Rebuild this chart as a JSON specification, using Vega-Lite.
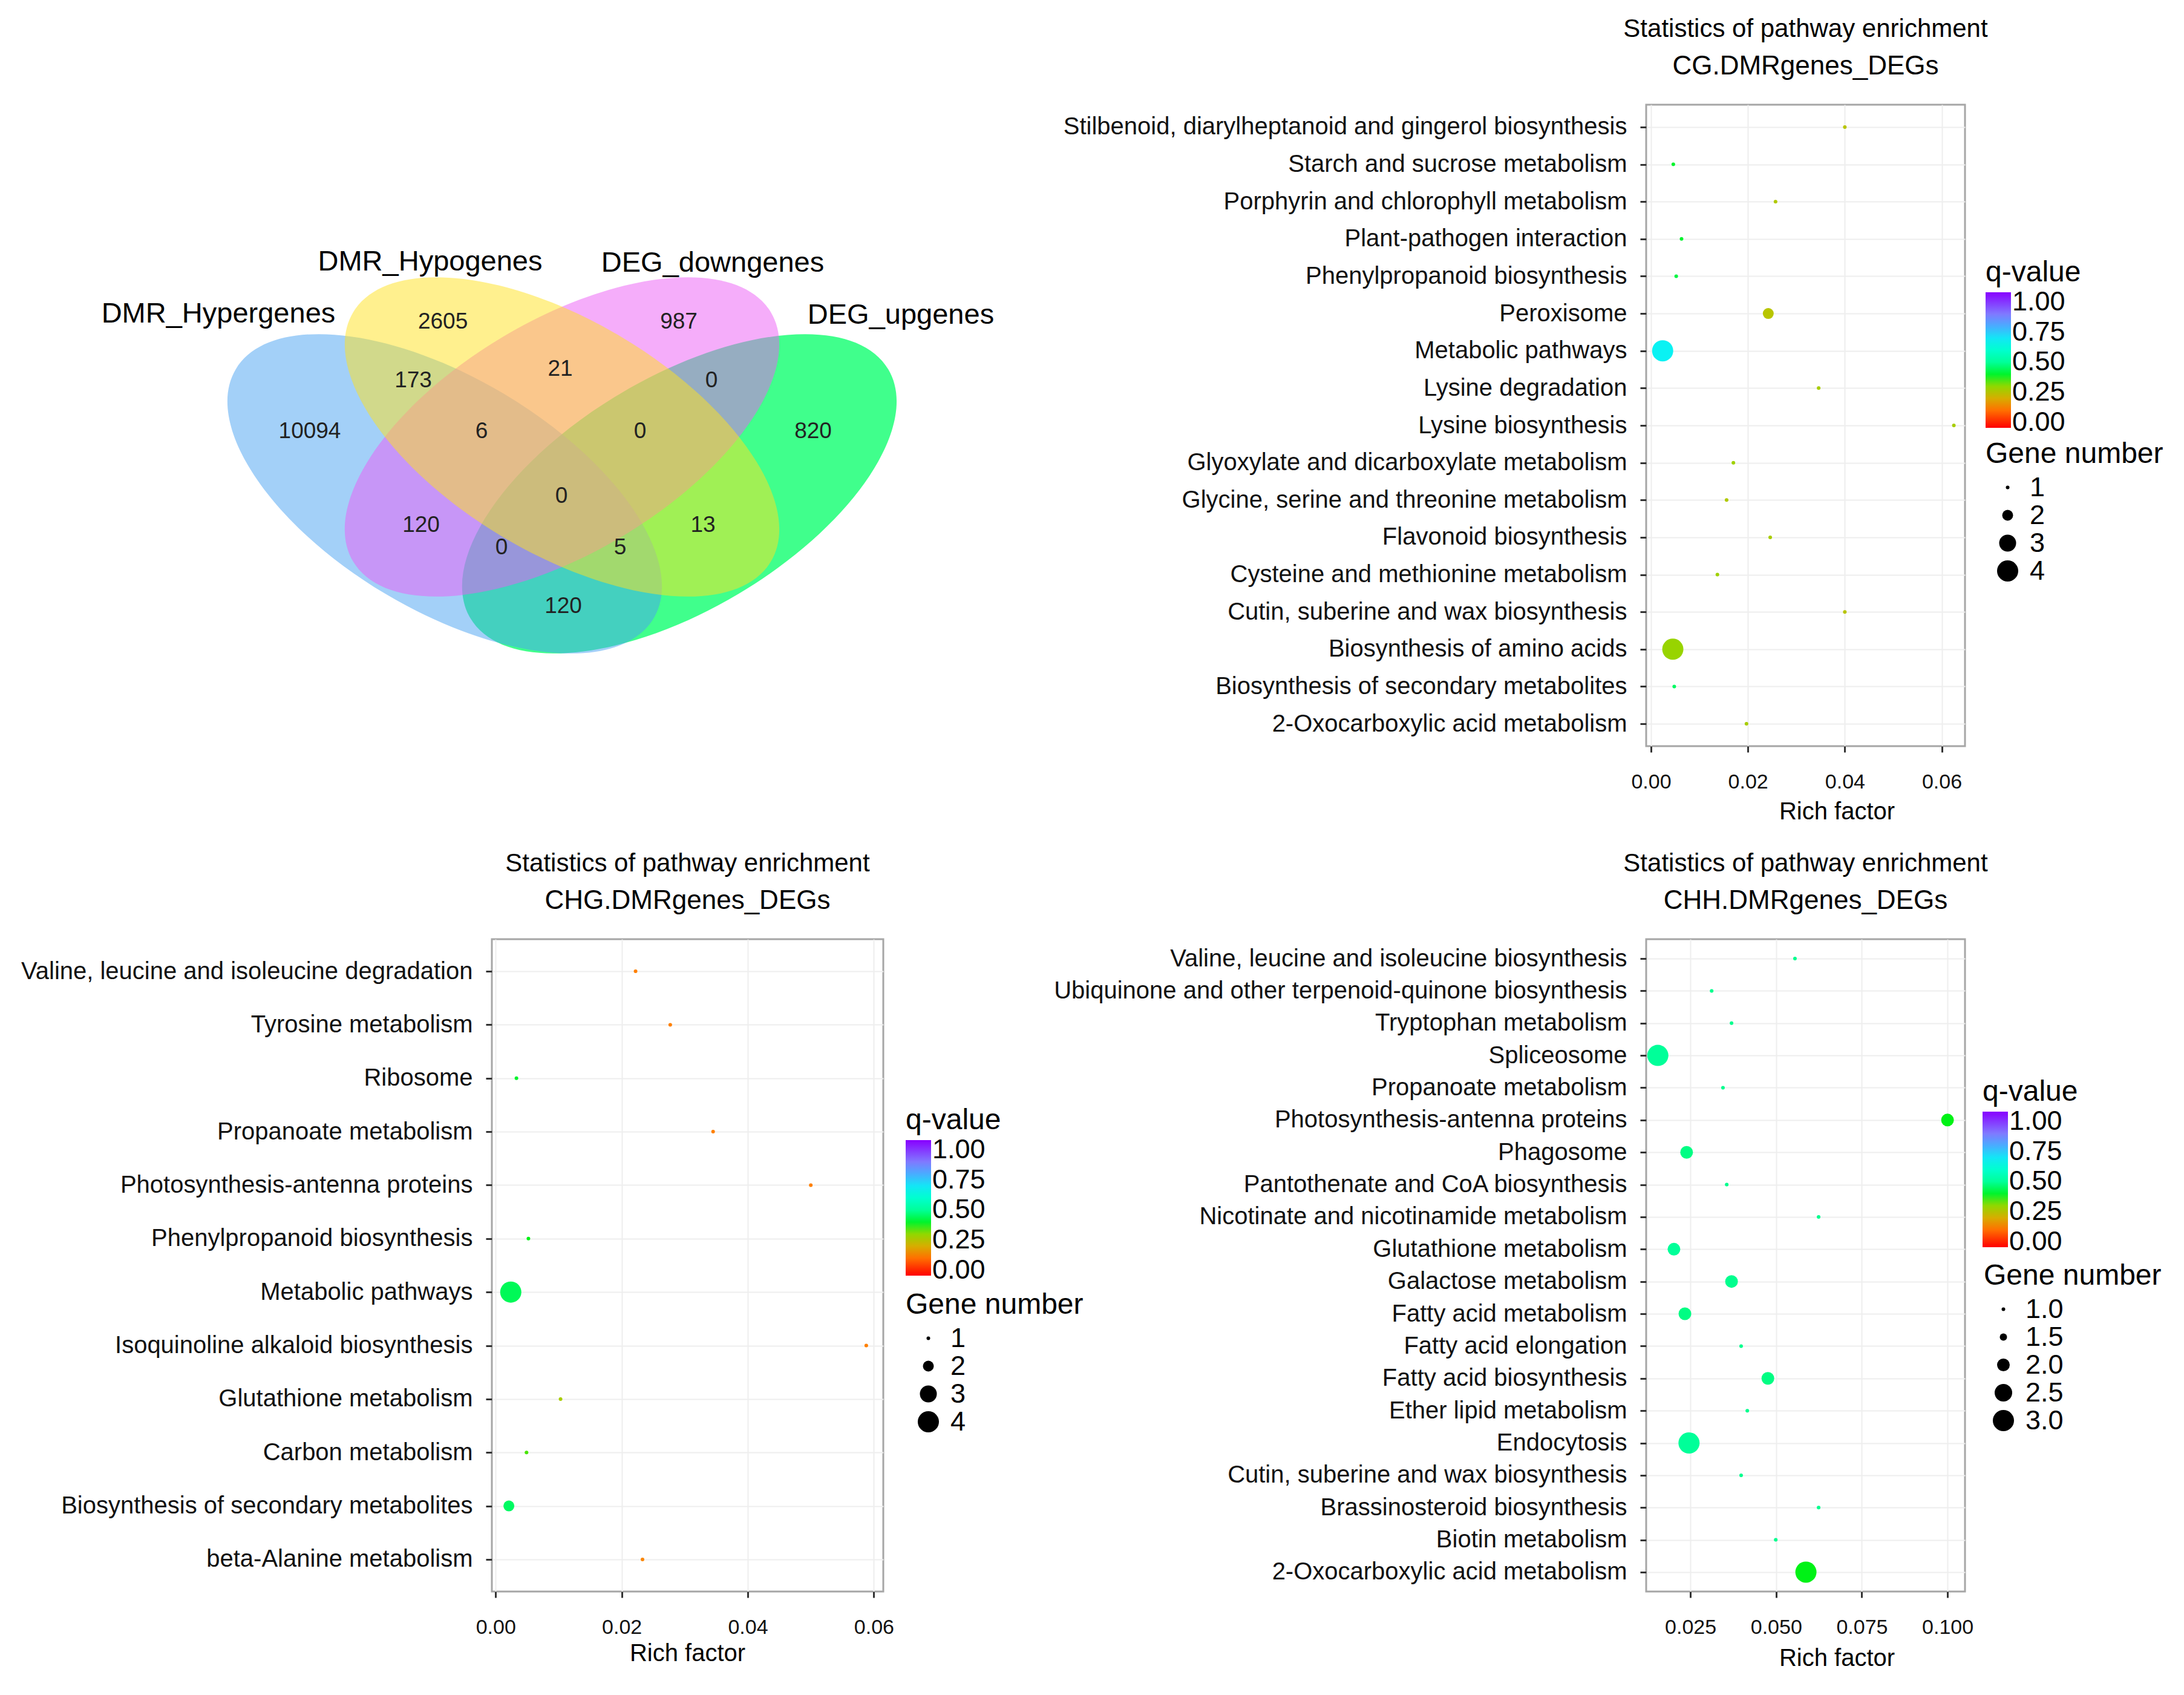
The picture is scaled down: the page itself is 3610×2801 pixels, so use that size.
{
  "$schema": "https://vega.github.io/schema/vega-lite/v6.json",
  "background": "white",
  "padding": {"left": 33, "top": 25, "right": 0, "bottom": 0},
  "config": {
    "font": "Liberation Sans",
    "view": {"stroke": "#a6a6a6", "strokeWidth": 3},
    "axis": {"domain": false, "tickColor": "#333333", "tickWidth": 3, "tickSize": 10, "labelColor": "#111111", "labelFont": "Liberation Sans", "gridColor": "#eeeeee", "gridWidth": 2, "titleFont": "Liberation Sans", "titleFontWeight": "normal", "titleColor": "#000000"},
    "axisY": {"labelFontSize": 40, "labelPadding": 22, "labelLimit": 3000},
    "axisX": {"labelFontSize": 34, "labelPadding": 32, "titleFontSize": 40},
    "legend": {"titleFontSize": 48, "labelFontSize": 45, "titleFontWeight": "normal", "titleColor": "#000000", "labelColor": "#000000", "titleFont": "Liberation Sans", "labelFont": "Liberation Sans", "titleLimit": 1000, "labelLimit": 1000, "labelOverlap": false, "padding": 0, "titlePadding": 8, "gradientThickness": 42, "gradientLength": 224, "gradientStrokeWidth": 0, "gradientVerticalMaxLength": 400, "labelOffset": 14, "rowPadding": 0, "symbolType": "circle", "symbolFillColor": "#000000", "symbolStrokeWidth": 0, "symbolOpacity": 1, "direction": "vertical"},
    "title": {"fontSize": 42, "subtitleFontSize": 44, "fontWeight": "normal", "subtitleFontWeight": "normal", "color": "#000000", "subtitleColor": "#000000", "anchor": "middle", "frame": "group", "offset": 40, "subtitlePadding": 18, "font": "Liberation Sans", "subtitleFont": "Liberation Sans"}
  },
  "datasets": {
    "venn_sets": [
      {"set": "DEG_upgenes", "u": 0.65, "v": 0.47},
      {"set": "DMR_Hypergenes", "u": 0.35, "v": 0.47},
      {"set": "DEG_downgenes", "u": 0.5, "v": 0.57},
      {"set": "DMR_Hypogenes", "u": 0.5, "v": 0.57}
    ],
    "venn_counts": [
      {"n": 2605, "u": 0.3477, "v": 0.7721},
      {"n": 987, "u": 0.6493, "v": 0.7721},
      {"n": 173, "u": 0.3098, "v": 0.6689},
      {"n": 21, "u": 0.4977, "v": 0.6891},
      {"n": 0, "u": 0.6911, "v": 0.6689},
      {"n": 10094, "u": 0.1775, "v": 0.5796},
      {"n": 6, "u": 0.3972, "v": 0.5796},
      {"n": 0, "u": 0.5998, "v": 0.5796},
      {"n": 820, "u": 0.821, "v": 0.5796},
      {"n": 0, "u": 0.4993, "v": 0.4657},
      {"n": 120, "u": 0.3198, "v": 0.4147},
      {"n": 13, "u": 0.6802, "v": 0.4147},
      {"n": 0, "u": 0.4227, "v": 0.3753},
      {"n": 5, "u": 0.5743, "v": 0.3753},
      {"n": 120, "u": 0.5016, "v": 0.2721}
    ],
    "venn_labels": [
      {"name": "DMR_Hypergenes", "u": 0.0607, "v": 0.786},
      {"name": "DMR_Hypogenes", "u": 0.3314, "v": 0.8774},
      {"name": "DEG_downgenes", "u": 0.6926, "v": 0.8753},
      {"name": "DEG_upgenes", "u": 0.9331, "v": 0.7838}
    ],
    "cg": [
      {"pathway": "Stilbenoid, diarylheptanoid and gingerol biosynthesis", "rich": 0.04, "q": 0.25, "genes": 1},
      {"pathway": "Starch and sucrose metabolism", "rich": 0.0046, "q": 0.4, "genes": 1},
      {"pathway": "Porphyrin and chlorophyll metabolism", "rich": 0.0257, "q": 0.26, "genes": 1},
      {"pathway": "Plant-pathogen interaction", "rich": 0.0063, "q": 0.4, "genes": 1},
      {"pathway": "Phenylpropanoid biosynthesis", "rich": 0.0052, "q": 0.42, "genes": 1},
      {"pathway": "Peroxisome", "rich": 0.0242, "q": 0.25, "genes": 2},
      {"pathway": "Metabolic pathways", "rich": 0.0024, "q": 0.68, "genes": 4},
      {"pathway": "Lysine degradation", "rich": 0.0346, "q": 0.27, "genes": 1},
      {"pathway": "Lysine biosynthesis", "rich": 0.0625, "q": 0.27, "genes": 1},
      {"pathway": "Glyoxylate and dicarboxylate metabolism", "rich": 0.017, "q": 0.28, "genes": 1},
      {"pathway": "Glycine, serine and threonine metabolism", "rich": 0.0156, "q": 0.26, "genes": 1},
      {"pathway": "Flavonoid biosynthesis", "rich": 0.0246, "q": 0.27, "genes": 1},
      {"pathway": "Cysteine and methionine metabolism", "rich": 0.0137, "q": 0.28, "genes": 1},
      {"pathway": "Cutin, suberine and wax biosynthesis", "rich": 0.04, "q": 0.25, "genes": 1},
      {"pathway": "Biosynthesis of amino acids", "rich": 0.0045, "q": 0.29, "genes": 4},
      {"pathway": "Biosynthesis of secondary metabolites", "rich": 0.0048, "q": 0.45, "genes": 1},
      {"pathway": "2-Oxocarboxylic acid metabolism", "rich": 0.0197, "q": 0.27, "genes": 1}
    ],
    "chg": [
      {"pathway": "Valine, leucine and isoleucine degradation", "rich": 0.0222, "q": 0.12, "genes": 1},
      {"pathway": "Tyrosine metabolism", "rich": 0.0277, "q": 0.12, "genes": 1},
      {"pathway": "Ribosome", "rich": 0.0033, "q": 0.4, "genes": 1},
      {"pathway": "Propanoate metabolism", "rich": 0.0345, "q": 0.12, "genes": 1},
      {"pathway": "Photosynthesis-antenna proteins", "rich": 0.05, "q": 0.12, "genes": 1},
      {"pathway": "Phenylpropanoid biosynthesis", "rich": 0.0052, "q": 0.38, "genes": 1},
      {"pathway": "Metabolic pathways", "rich": 0.0024, "q": 0.44, "genes": 4},
      {"pathway": "Isoquinoline alkaloid biosynthesis", "rich": 0.0588, "q": 0.12, "genes": 1},
      {"pathway": "Glutathione metabolism", "rich": 0.0103, "q": 0.27, "genes": 1},
      {"pathway": "Carbon metabolism", "rich": 0.0049, "q": 0.33, "genes": 1},
      {"pathway": "Biosynthesis of secondary metabolites", "rich": 0.0021, "q": 0.45, "genes": 2},
      {"pathway": "beta-Alanine metabolism", "rich": 0.0233, "q": 0.13, "genes": 1}
    ],
    "chh": [
      {"pathway": "Valine, leucine and isoleucine biosynthesis", "rich": 0.0555, "q": 0.49, "genes": 1},
      {"pathway": "Ubiquinone and other terpenoid-quinone biosynthesis", "rich": 0.0312, "q": 0.49, "genes": 1},
      {"pathway": "Tryptophan metabolism", "rich": 0.037, "q": 0.49, "genes": 1},
      {"pathway": "Spliceosome", "rich": 0.0155, "q": 0.5, "genes": 3},
      {"pathway": "Propanoate metabolism", "rich": 0.0345, "q": 0.49, "genes": 1},
      {"pathway": "Photosynthesis-antenna proteins", "rich": 0.1, "q": 0.38, "genes": 2},
      {"pathway": "Phagosome", "rich": 0.0239, "q": 0.48, "genes": 2},
      {"pathway": "Pantothenate and CoA biosynthesis", "rich": 0.0356, "q": 0.49, "genes": 1},
      {"pathway": "Nicotinate and nicotinamide metabolism", "rich": 0.0624, "q": 0.49, "genes": 1},
      {"pathway": "Glutathione metabolism", "rich": 0.0202, "q": 0.5, "genes": 2},
      {"pathway": "Galactose metabolism", "rich": 0.037, "q": 0.49, "genes": 2},
      {"pathway": "Fatty acid metabolism", "rich": 0.0234, "q": 0.48, "genes": 2},
      {"pathway": "Fatty acid elongation", "rich": 0.0398, "q": 0.49, "genes": 1},
      {"pathway": "Fatty acid biosynthesis", "rich": 0.0476, "q": 0.48, "genes": 2},
      {"pathway": "Ether lipid metabolism", "rich": 0.0416, "q": 0.49, "genes": 1},
      {"pathway": "Endocytosis", "rich": 0.0246, "q": 0.5, "genes": 3},
      {"pathway": "Cutin, suberine and wax biosynthesis", "rich": 0.0398, "q": 0.49, "genes": 1},
      {"pathway": "Brassinosteroid biosynthesis", "rich": 0.0624, "q": 0.49, "genes": 1},
      {"pathway": "Biotin metabolism", "rich": 0.0499, "q": 0.49, "genes": 1},
      {"pathway": "2-Oxocarboxylic acid metabolism", "rich": 0.0587, "q": 0.38, "genes": 3}
    ]
  },
  "columns": 2,
  "spacing": {"row": 319, "column": 1261},
  "bounds": "flush",
  "align": "each",
  "resolve": {"scale": {"color": "independent", "size": "independent"}, "legend": {"color": "independent", "size": "independent"}},
  "concat": [
    {
      "width": 647,
      "height": 1060,
      "view": {"stroke": null},
      "encoding": {
        "x": {"field": "u", "type": "quantitative", "scale": {"domain": [0.4103, 0.9107], "nice": false, "zero": false}, "axis": null},
        "y": {"field": "v", "type": "quantitative", "scale": {"domain": [0.0264, 1.154], "nice": false, "zero": false}, "axis": null}
      },
      "layer": [
        {"data": {"name": "venn_sets"}, "transform": [{"filter": "datum.set === 'DEG_upgenes'"}],
         "mark": {"type": "point", "shape": "M -1 0 A 1 0.478 0 1 1 1 0 A 1 0.478 0 1 1 -1 0 Z", "size": 646416, "angle": -30.8, "filled": true, "color": "#00FF65", "fill": "#00FF65", "opacity": 0.75, "strokeWidth": 0}},
        {"data": {"name": "venn_sets"}, "transform": [{"filter": "datum.set === 'DMR_Hypergenes'"}],
         "mark": {"type": "point", "shape": "M -1 0 A 1 0.478 0 1 1 1 0 A 1 0.478 0 1 1 -1 0 Z", "size": 646416, "angle": 30.8, "filled": true, "color": "#47A1F1", "fill": "#47A1F1", "opacity": 0.5, "strokeWidth": 0}},
        {"data": {"name": "venn_sets"}, "transform": [{"filter": "datum.set === 'DEG_downgenes'"}],
         "mark": {"type": "point", "shape": "M -1 0 A 1 0.478 0 1 1 1 0 A 1 0.478 0 1 1 -1 0 Z", "size": 646416, "angle": -30.8, "filled": true, "color": "#EB5BF5", "fill": "#EB5BF5", "opacity": 0.5, "strokeWidth": 0}},
        {"data": {"name": "venn_sets"}, "transform": [{"filter": "datum.set === 'DMR_Hypogenes'"}],
         "mark": {"type": "point", "shape": "M -1 0 A 1 0.478 0 1 1 1 0 A 1 0.478 0 1 1 -1 0 Z", "size": 646416, "angle": 30.8, "filled": true, "color": "#FFE11D", "fill": "#FFE11D", "opacity": 0.5, "strokeWidth": 0}},
        {"data": {"name": "venn_counts"},
         "mark": {"type": "text", "fontSize": 37, "color": "#222222", "align": "center", "baseline": "middle", "font": "Liberation Sans"},
         "encoding": {"text": {"field": "n", "type": "quantitative", "format": "d"}}},
        {"data": {"name": "venn_labels"},
         "mark": {"type": "text", "fontSize": 47, "color": "#000000", "align": "center", "baseline": "middle", "font": "Liberation Sans"},
         "encoding": {"text": {"field": "name", "type": "nominal"}}}
      ]
    },
    {
      "title": {"text": "Statistics of pathway  enrichment", "subtitle": "CG.DMRgenes_DEGs"},
      "width": 527,
      "height": 1060,
      "data": {"name": "cg"},
      "mark": {"type": "point", "filled": true, "opacity": 1, "shape": "circle", "strokeWidth": 0},
      "encoding": {
        "x": {"field": "rich", "type": "quantitative", "scale": {"domain": [-0.001, 0.0648], "nice": false, "zero": false},
              "axis": {"values": [0, 0.02, 0.04, 0.06], "format": ".2f", "title": "Rich factor", "titleX": 315, "titleY": 108, "titleBaseline": "middle", "grid": true}},
        "y": {"field": "pathway", "type": "nominal", "scale": {"type": "point", "padding": 0.6},
              "sort": ["Stilbenoid, diarylheptanoid and gingerol biosynthesis", "Starch and sucrose metabolism", "Porphyrin and chlorophyll metabolism", "Plant-pathogen interaction", "Phenylpropanoid biosynthesis", "Peroxisome", "Metabolic pathways", "Lysine degradation", "Lysine biosynthesis", "Glyoxylate and dicarboxylate metabolism", "Glycine, serine and threonine metabolism", "Flavonoid biosynthesis", "Cysteine and methionine metabolism", "Cutin, suberine and wax biosynthesis", "Biosynthesis of amino acids", "Biosynthesis of secondary metabolites", "2-Oxocarboxylic acid metabolism"],
              "axis": {"title": null, "grid": true}},
        "color": {"field": "q", "type": "quantitative",
                  "scale": {"domain": [-0.045, 0.12, 0.23, 0.3, 0.36, 0.5, 0.66, 0.76, 0.89, 1.08], "range": ["#FF0000", "#FF8000", "#C8BE00", "#90D800", "#00F000", "#00FF99", "#00FFF0", "#30C0FF", "#8080FF", "#8800FF"], "interpolate": "rgb"},
                  "legend": {"title": "q-value", "orient": "none", "legendX": 561, "legendY": 254, "values": [0, 0.25, 0.5, 0.75, 1], "format": ".2f", "direction": "vertical", "gradientLength": 224, "labelOverlap": false}},
        "size": {"field": "genes", "type": "quantitative",
                 "scale": {"domain": [1, 2, 3, 4], "range": [36, 324, 784, 1225]},
                 "legend": {"title": "Gene number", "orient": "none", "legendX": 561, "legendY": 554, "values": [1, 2, 3, 4], "format": "d", "direction": "vertical", "symbolOffset": 14, "titleLimit": 1000}}
      }
    },
    {
      "title": {"text": "Statistics of pathway  enrichment", "subtitle": "CHG.DMRgenes_DEGs"},
      "width": 647,
      "height": 1078,
      "data": {"name": "chg"},
      "mark": {"type": "point", "filled": true, "opacity": 1, "shape": "circle", "strokeWidth": 0},
      "encoding": {
        "x": {"field": "rich", "type": "quantitative", "scale": {"domain": [-0.0006, 0.0615], "nice": false, "zero": false},
              "axis": {"values": [0, 0.02, 0.04, 0.06], "format": ".2f", "title": "Rich factor", "titleX": 323, "titleY": 102, "titleBaseline": "middle", "grid": true}},
        "y": {"field": "pathway", "type": "nominal", "scale": {"type": "point", "padding": 0.6},
              "sort": ["Valine, leucine and isoleucine degradation", "Tyrosine metabolism", "Ribosome", "Propanoate metabolism", "Photosynthesis-antenna proteins", "Phenylpropanoid biosynthesis", "Metabolic pathways", "Isoquinoline alkaloid biosynthesis", "Glutathione metabolism", "Carbon metabolism", "Biosynthesis of secondary metabolites", "beta-Alanine metabolism"],
              "axis": {"title": null, "grid": true}},
        "color": {"field": "q", "type": "quantitative",
                  "scale": {"domain": [-0.045, 0.12, 0.23, 0.3, 0.36, 0.5, 0.66, 0.76, 0.89, 1.08], "range": ["#FF0000", "#FF8000", "#C8BE00", "#90D800", "#00F000", "#00FF99", "#00FFF0", "#30C0FF", "#8080FF", "#8800FF"], "interpolate": "rgb"},
                  "legend": {"title": "q-value", "orient": "none", "legendX": 684, "legendY": 276, "values": [0, 0.25, 0.5, 0.75, 1], "format": ".2f", "direction": "vertical", "gradientLength": 224, "labelOverlap": false}},
        "size": {"field": "genes", "type": "quantitative",
                 "scale": {"domain": [1, 2, 3, 4], "range": [36, 324, 784, 1225]},
                 "legend": {"title": "Gene number", "orient": "none", "legendX": 684, "legendY": 581, "values": [1, 2, 3, 4], "format": "d", "direction": "vertical", "symbolOffset": 15, "titleLimit": 1000}}
      }
    },
    {
      "title": {"text": "Statistics of pathway  enrichment", "subtitle": "CHH.DMRgenes_DEGs"},
      "width": 527,
      "height": 1078,
      "data": {"name": "chh"},
      "mark": {"type": "point", "filled": true, "opacity": 1, "shape": "circle", "strokeWidth": 0},
      "encoding": {
        "x": {"field": "rich", "type": "quantitative", "scale": {"domain": [0.0121, 0.1051], "nice": false, "zero": false},
              "axis": {"values": [0.025, 0.05, 0.075, 0.1], "format": ".3f", "title": "Rich factor", "titleX": 315, "titleY": 110, "titleBaseline": "middle", "grid": true}},
        "y": {"field": "pathway", "type": "nominal", "scale": {"type": "point", "padding": 0.6},
              "sort": ["Valine, leucine and isoleucine biosynthesis", "Ubiquinone and other terpenoid-quinone biosynthesis", "Tryptophan metabolism", "Spliceosome", "Propanoate metabolism", "Photosynthesis-antenna proteins", "Phagosome", "Pantothenate and CoA biosynthesis", "Nicotinate and nicotinamide metabolism", "Glutathione metabolism", "Galactose metabolism", "Fatty acid metabolism", "Fatty acid elongation", "Fatty acid biosynthesis", "Ether lipid metabolism", "Endocytosis", "Cutin, suberine and wax biosynthesis", "Brassinosteroid biosynthesis", "Biotin metabolism", "2-Oxocarboxylic acid metabolism"],
              "axis": {"title": null, "grid": true}},
        "color": {"field": "q", "type": "quantitative",
                  "scale": {"domain": [-0.045, 0.12, 0.23, 0.3, 0.36, 0.5, 0.66, 0.76, 0.89, 1.08], "range": ["#FF0000", "#FF8000", "#C8BE00", "#90D800", "#00F000", "#00FF99", "#00FFF0", "#30C0FF", "#8080FF", "#8800FF"], "interpolate": "rgb"},
                  "legend": {"title": "q-value", "orient": "none", "legendX": 556, "legendY": 229, "values": [0, 0.25, 0.5, 0.75, 1], "format": ".2f", "direction": "vertical", "gradientLength": 224, "labelOverlap": false}},
        "size": {"field": "genes", "type": "quantitative",
                 "scale": {"domain": [1, 1.5, 2, 2.5, 3], "range": [36, 144, 441, 841, 1225]},
                 "legend": {"title": "Gene number", "orient": "none", "legendX": 558, "legendY": 533, "values": [1, 1.5, 2, 2.5, 3], "format": ".1f", "direction": "vertical", "symbolOffset": 10, "titleLimit": 1000}}
      }
    }
  ]
}
